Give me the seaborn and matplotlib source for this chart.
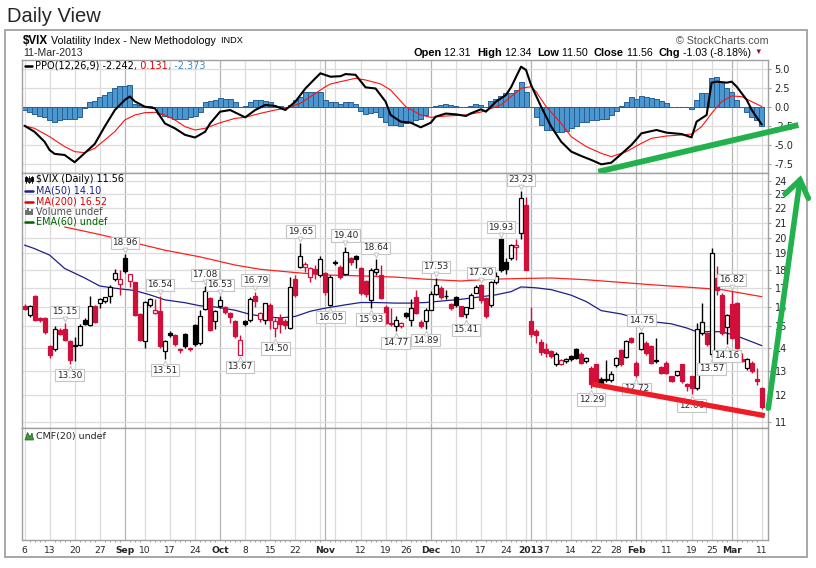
import matplotlib
matplotlib.use("Agg")
import numpy as np
import pandas as pd
import seaborn as sns
import matplotlib.pyplot as plt
import matplotlib.transforms as mtransforms
from matplotlib.patches import Rectangle, Polygon
from matplotlib.ticker import FixedLocator, NullLocator, NullFormatter

sns.set_style("white")
plt.rcParams["font.family"] = ["DejaVu Sans"]

# ---- daily candles, $VIX 6-Aug-2012 .. 11-Mar-2013 (148 sessions) ----
prior_close = 16.10
opens = [16.02, 15.55, 16.53, 15.42, 15.40, 14.10, 13.93, 14.85, 14.88, 14.30,
         14.15, 14.15, 15.30, 15.05, 16.05, 16.18, 16.30, 16.57, 17.48, 17.22,
         18.70, 17.40, 17.30, 15.60, 14.30, 16.10, 15.68, 15.75, 13.85, 14.69,
         14.60, 13.95, 14.65, 14.00, 15.08, 14.20, 15.87, 16.44, 15.25, 16.01,
         16.00, 15.67, 15.28, 13.70, 15.25, 15.30, 16.57, 15.38, 15.34, 16.09,
         14.93, 15.42, 15.25, 14.93, 17.48, 18.20, 18.20, 17.60, 18.07, 17.70,
         17.82, 16.09, 18.42, 18.16, 17.78, 18.70, 18.84, 18.10, 17.40, 16.35,
         17.92, 17.70, 15.98, 15.10, 15.04, 15.04, 15.67, 15.34, 16.48, 15.23,
         15.25, 15.84, 16.67, 16.98, 16.55, 16.15, 16.50, 16.01, 15.64, 15.92,
         16.74, 17.18, 16.44, 16.09, 17.30, 19.90, 18.50, 18.70, 19.37, 20.33,
         22.20, 15.29, 14.78, 14.28, 13.95, 13.85, 13.27, 13.30, 13.42, 13.64,
         13.96, 13.72, 13.42, 13.12, 13.27, 12.67, 12.67, 12.60, 13.23, 13.88,
         13.60, 14.47, 13.35, 13.96, 14.20, 14.09, 13.42, 13.15, 13.32, 12.77,
         12.84, 13.27, 12.47, 12.77, 12.31, 14.67, 14.67, 13.72, 17.55, 16.63,
         14.99, 16.14, 16.18, 13.49, 13.12, 13.35, 12.67, 12.31]
highs = [16.12, 16.10, 16.62, 15.48, 15.45, 14.15, 15.00, 14.92, 15.15, 14.35,
         14.50, 15.10, 15.40, 16.53, 16.10, 16.45, 16.52, 17.15, 18.04, 18.00,
         18.96, 17.80, 17.35, 15.65, 16.30, 16.45, 16.40, 16.54, 14.35, 14.78,
         14.65, 14.00, 14.70, 14.05, 15.12, 15.80, 17.08, 16.50, 15.80, 16.53,
         16.05, 15.70, 15.30, 14.60, 15.30, 16.50, 16.79, 15.70, 16.20, 16.20,
         15.40, 15.60, 15.35, 17.63, 17.70, 19.65, 18.50, 18.20, 18.30, 18.84,
         17.90, 17.70, 18.60, 18.30, 19.40, 18.80, 18.90, 18.20, 17.45, 18.10,
         18.64, 18.30, 16.10, 15.90, 15.50, 15.20, 15.70, 16.40, 16.90, 15.30,
         15.90, 16.80, 17.53, 17.10, 16.90, 16.20, 16.55, 16.05, 16.00, 16.70,
         17.15, 17.20, 16.50, 17.40, 17.90, 19.93, 18.70, 19.60, 19.90, 23.23,
         22.80, 16.00, 14.90, 14.40, 14.20, 13.90, 13.80, 13.50, 13.55, 13.70,
         14.00, 13.80, 13.60, 13.20, 13.30, 12.75, 13.45, 12.98, 13.60, 13.95,
         14.35, 14.50, 13.40, 14.75, 14.30, 14.15, 14.43, 13.20, 13.40, 12.80,
         13.00, 13.30, 12.50, 12.80, 15.15, 16.20, 14.75, 19.35, 18.23, 16.70,
         15.60, 16.82, 16.25, 13.75, 13.55, 13.40, 13.10, 12.34]
lows = [15.80, 15.48, 15.28, 15.22, 14.62, 13.55, 13.85, 14.58, 14.30, 13.30,
        13.40, 14.10, 15.05, 15.00, 15.15, 15.95, 16.20, 16.20, 17.40, 16.62,
        17.82, 17.07, 15.50, 14.30, 14.00, 16.00, 15.60, 14.00, 13.51, 14.50,
        14.10, 13.75, 14.00, 13.85, 14.10, 14.15, 15.80, 14.80, 14.90, 15.90,
        15.60, 15.15, 14.45, 13.67, 15.00, 15.20, 16.00, 15.20, 15.10, 14.90,
        14.50, 14.70, 14.90, 14.90, 16.50, 18.10, 17.90, 17.30, 17.50, 17.60,
        16.60, 16.05, 18.30, 17.50, 17.70, 18.30, 18.10, 16.60, 16.50, 15.93,
        17.70, 16.40, 15.10, 15.00, 14.77, 14.95, 15.40, 15.00, 15.60, 14.95,
        14.89, 15.80, 16.60, 16.40, 16.40, 15.80, 16.00, 15.50, 15.41, 15.90,
        16.70, 16.20, 15.40, 16.00, 17.20, 17.90, 17.80, 18.60, 18.60, 19.90,
        18.00, 14.50, 14.23, 13.70, 13.57, 13.55, 13.20, 13.25, 13.35, 13.40,
        13.50, 13.30, 13.35, 12.29, 12.35, 12.40, 12.55, 12.55, 13.15, 13.20,
        13.55, 14.20, 12.72, 13.90, 13.70, 13.30, 13.35, 12.85, 12.85, 12.55,
        12.80, 12.50, 12.16, 12.06, 12.20, 14.60, 14.10, 13.57, 16.60, 14.60,
        14.16, 14.40, 13.95, 13.38, 13.05, 12.92, 12.42, 11.50]
closes = [15.88, 16.04, 15.34, 15.30, 14.72, 13.70, 14.88, 14.65, 14.38, 13.46,
          14.07, 15.04, 15.12, 16.01, 15.20, 16.38, 16.48, 17.07, 17.82, 17.48,
          17.98, 17.76, 15.56, 14.37, 16.23, 16.40, 15.83, 14.07, 14.30, 14.60,
          14.18, 13.88, 14.07, 13.93, 14.18, 15.50, 16.80, 14.85, 15.75, 16.35,
          15.72, 15.45, 14.54, 14.35, 15.10, 16.38, 16.27, 15.67, 16.18, 15.30,
          15.25, 15.10, 15.05, 17.07, 16.62, 18.84, 18.34, 18.10, 17.82, 18.64,
          16.78, 17.63, 18.50, 17.63, 19.08, 18.50, 18.64, 16.74, 16.68, 18.01,
          18.06, 16.44, 15.17, 15.15, 15.30, 15.17, 15.50, 15.92, 15.67, 15.04,
          15.84, 16.67, 17.13, 16.50, 16.58, 15.92, 16.09, 15.53, 15.97, 16.62,
          17.05, 16.33, 15.53, 17.35, 17.68, 18.01, 18.05, 19.52, 19.50, 22.75,
          18.02, 14.64, 14.59, 13.80, 13.75, 13.62, 13.72, 13.45, 13.49, 13.52,
          13.54, 13.35, 13.54, 12.45, 12.42, 12.45, 12.63, 12.88, 13.54, 13.27,
          14.31, 14.28, 12.84, 14.67, 13.75, 13.35, 13.45, 12.91, 12.89, 12.59,
          12.98, 12.56, 12.39, 12.29, 14.90, 15.21, 14.16, 19.00, 16.90, 14.67,
          15.58, 14.43, 14.01, 13.42, 13.49, 12.98, 12.59, 11.56]

# moving averages (session index, value)
ma50_idx = [0, 2, 5, 8, 12, 15, 18, 22, 25, 28, 32, 35, 38, 42, 45, 48, 51, 54, 57,
            60, 64, 67, 70, 74, 77, 80, 84, 87, 90, 94, 97, 99, 102, 105, 109, 112,
            115, 119, 122, 125, 129, 132, 134, 137, 139, 142, 147]
ma50_val = [19.52, 19.30, 18.90, 18.10, 17.55, 17.10, 16.98, 16.85, 16.62, 16.35,
            16.20, 16.04, 15.98, 15.81, 15.60, 15.48, 15.42, 15.50, 15.76, 15.92,
            16.09, 16.21, 16.21, 16.18, 16.18, 16.21, 16.31, 16.38, 16.48, 16.62,
            16.79, 17.05, 17.00, 16.90, 16.60, 16.26, 15.79, 15.62, 15.40, 15.24,
            15.13, 14.93, 14.75, 14.75, 14.75, 14.55, 14.10]
ma200_idx = [8, 15, 22, 28, 35, 42, 47, 54, 60, 67, 74, 80, 87, 93, 99, 105, 112,
             119, 125, 132, 139, 147]
ma200_val = [20.70, 20.20, 19.66, 19.20, 18.79, 18.30, 18.05, 17.86, 17.72, 17.67,
             17.60, 17.48, 17.38, 17.48, 17.52, 17.55, 17.45, 17.30, 17.17, 17.04,
             16.90, 16.52]

# PPO(12,26,9) line and signal
ppo_idx = [0, 2, 4, 5, 6, 8, 10, 12, 14, 16, 18, 20, 21, 22, 24, 26, 28, 30, 32, 34,
           36, 37, 39, 41, 44, 46, 48, 50, 52, 54, 56, 58, 59, 61, 63, 64, 66, 68,
           70, 72, 73, 75, 77, 79, 81, 82, 84, 86, 88, 89, 91, 92, 94, 96, 97, 99,
           100, 101, 103, 105, 107, 109, 111, 113, 115, 117, 119, 121, 122, 123,
           126, 128, 131, 133, 134, 136, 137, 138, 140, 141, 142, 144, 145, 146, 147]
ppo_val = [-2.40, -3.20, -4.50, -5.60, -6.10, -6.25, -7.20, -6.00, -4.80, -2.50,
           -0.35, 1.00, 1.45, 0.80, 0.10, -0.10, -2.10, -2.75, -3.60, -3.95,
           -3.20, -2.10, -0.55, -0.33, -1.30, -0.33, 0.33, 0.20, -0.33, 0.77,
           2.50, 3.85, 4.50, 4.05, 4.12, 4.40, 4.30, 2.65, 2.50, 0.77,
           -0.99, -1.86, -2.00, -2.61, -2.00, -1.20, -0.80, -0.90, -1.12, -0.77,
           -0.24, -0.55, 0.77, 1.65, 2.65, 5.37, 4.93, 2.96, 0.11, -2.50,
           -4.50, -5.80, -6.38, -6.90, -7.48, -7.26, -6.12, -4.93, -4.19, -3.40,
           -2.96, -3.31, -3.49, -3.93, -1.86, -0.99, 3.27, 3.40, 3.27, 3.40,
           2.74, 0.99, -0.33, -1.30, -2.24]
sig_idx = [0, 2, 5, 8, 10, 12, 14, 16, 18, 20, 22, 24, 26, 28, 30, 32, 34, 36, 39,
           42, 44, 47, 50, 52, 55, 58, 60, 61, 63, 66, 68, 71, 73, 76, 79, 81, 84,
           88, 91, 95, 97, 99, 101, 102, 104, 107, 109, 112, 115, 117, 120, 123,
           125, 128, 131, 133, 135, 137, 139, 141, 143, 145, 147]
sig_val = [-2.43, -2.74, -3.84, -5.15, -5.81, -5.94, -5.37, -4.28, -3.18, -1.64,
           -0.99, -0.68, -0.64, -0.99, -1.64, -2.52, -2.96, -2.74, -2.00, -1.43,
           -1.29, -0.77, -0.33, -0.11, 0.55, 1.86, 2.74, 3.09, 3.40, 3.84,
           3.62, 3.10, 2.30, 0.11, -0.99, -1.29, -1.12, -0.99, -0.60, 0.33,
           1.43, 2.52, 2.74, 2.08, 0.11, -2.08, -3.84, -5.15, -6.03, -6.47,
           -5.81, -4.71, -4.06, -3.75, -3.62, -3.49, -2.52, -0.77, 0.77, 1.52,
           1.43, 0.77, 0.13]
# PPO histogram, one bar per session
hist = [-0.35, -0.57, -0.80, -1.10, -1.30, -1.65, -1.90, -1.65, -1.55, -1.50,
        -1.45, -1.30, -0.10, 0.75, 0.80, 1.40, 1.70, 2.05, 2.60, 2.80,
        2.80, 2.90, 0.45, 0.30, 0.17, 0.17, 0.10, -0.80, -1.10, -1.30,
        -1.45, -1.55, -1.55, -1.30, -1.10, -0.55, 0.75, 0.80, 1.05, 1.30,
        1.15, 1.10, 0.75, 0.10, 0.17, 0.75, 0.95, 0.95, 0.87, 0.75,
        0.17, 0.17, 0.10, 0.30, 0.95, 1.40, 2.05, 2.05, 2.05, 2.05,
        0.95, 0.77, 0.77, 0.44, 0.66, 0.66, 0.44, -0.44, -0.88, -0.77,
        -0.55, -1.21, -1.86, -2.30, -2.30, -2.45, -2.00, -1.90, -1.60, -1.54,
        -0.99, 0.02, 0.20, 0.33, 0.40, 0.30, 0.15, 0.05, 0.10, 0.25,
        0.50, 0.34, 0.13, 0.79, 1.10, 1.45, 1.89, 1.89, 2.24, 3.30,
        2.10, 0.05, -1.27, -2.28, -2.94, -2.94, -3.29, -3.29, -3.03, -2.72,
        -2.41, -1.97, -1.97, -1.71, -1.71, -1.54, -1.54, -0.97, -0.40, 0.20,
        0.77, 1.43, 1.08, 1.56, 1.43, 1.21, 1.08, 0.86, 0.55, 0.11,
        0.11, 0.02, 0.02, -0.24, 0.99, 1.87, 1.87, 3.94, 4.07, 3.41,
        2.53, 2.09, 0.99, 0.02, -0.55, -1.21, -1.71, -2.37]

# labelled swing highs / lows (session index)
high_label_idx = [8, 20, 27, 36, 39, 46, 55, 64, 70, 82, 91, 95, 99, 123, 141]
low_label_idx = [9, 28, 43, 50, 61, 69, 74, 80, 88, 113, 122, 133, 137, 140]

# date axis
tick_idx = [0, 5, 10, 15, 20, 24, 29, 34, 39, 44, 49, 54, 60, 67, 72, 76, 81, 86, 91,
            96, 101, 104, 109, 114, 118, 122, 128, 133, 137, 141, 147]
tick_txt = ["6", "13", "20", "27", "Sep", "10", "17", "24", "Oct", "8", "15", "22",
            "Nov", "12", "19", "26", "Dec", "10", "17", "24", "2013", "7", "14", "22",
            "28", "Feb", "11", "19", "25", "Mar", "11"]
month_idx = [20, 39, 60, 81, 101, 122, 141]
week_idx = [0, 5, 10, 15, 24, 29, 34, 44, 49, 54, 59, 62, 67, 72, 76, 86, 91, 96, 100,
            104, 109, 114, 118, 123, 128, 133, 137, 142, 147]

# hand drawn trend lines (index, value)
red_trend_x = [113.2, 147.6]
red_trend_y = [12.45, 11.24]
green_trend_x = [114.4, 154.3]
green_trend_y = [-8.45, -2.30]

RED = "#d0103a"
GRID = "#dcdcdc"
MONTH = "#b4b4b4"
FRAME = "#a0a0a0"

df = pd.DataFrame({"o": opens, "h": highs, "l": lows, "c": closes})
df["i"] = np.arange(len(df))
prev = df["c"].shift(1).fillna(prior_close)
df["col"] = np.where(df["c"] < prev, RED, "black")
df["face"] = np.where(df["c"] > df["o"], "white", df["col"])

W, H = 816, 568
fig = plt.figure(figsize=(W / 100, H / 100), dpi=100)


def px_axes(x0, y0, x1, y1):
    return fig.add_axes([x0 / W, 1 - y1 / H, (x1 - x0) / W, (y1 - y0) / H])


ax_ppo = px_axes(22, 60, 768.3, 173)
ax_px = px_axes(22, 173, 768.3, 428.3)
ax_cmf = px_axes(22, 428.3, 768.3, 540)
XLIM = (-0.5, 148.3)

for ax in (ax_ppo, ax_px, ax_cmf):
    ax.set_xlim(*XLIM)
    for s in ax.spines.values():
        s.set_color(FRAME)
        s.set_linewidth(1)
    for w in week_idx:
        ax.axvline(w, color=GRID, lw=0.9, zorder=0)
    for m in month_idx:
        ax.axvline(m, color=MONTH, lw=0.9, zorder=0)
    ax.tick_params(axis="x", which="both", bottom=False, labelbottom=False)

# ---- PPO panel ----
ax_ppo.set_ylim(-8.62, 6.25)
for v in [5, 2.5, 0, -2.5, -5, -7.5]:
    ax_ppo.axhline(v, color=GRID, lw=0.9, zorder=0)
ax_ppo.bar(df["i"], hist, width=1.0, color="#4b98d0", edgecolor="#2a5f95",
           linewidth=0.7, zorder=2)
sns.lineplot(x=sig_idx, y=sig_val, ax=ax_ppo, color="#ff1010", linewidth=0.8, zorder=3)
sns.lineplot(x=ppo_idx, y=ppo_val, ax=ax_ppo, color="black", linewidth=1.5, zorder=4)
ax_ppo.plot(green_trend_x, green_trend_y, color="#22b14c", lw=4.2, clip_on=False,
            solid_capstyle="butt", zorder=6)
ax_ppo.yaxis.tick_right()
ax_ppo.set_yticks([5, 2.5, 0, -2.5, -5, -7.5])
ax_ppo.set_yticklabels(["5.0", "2.5", "0.0", "-2.5", "-5.0", "-7.5"])
ax_ppo.tick_params(axis="y", right=True, length=2.5, color=FRAME, pad=2, labelsize=7)
ax_ppo.set_xlabel("")
ax_ppo.set_ylabel("")

# ---- price panel ----
ax_px.set_yscale("log")
ax_px.set_ylim(10.79, 24.65)
for p in range(11, 25):
    ax_px.axhline(p, color=GRID, lw=0.9, zorder=0)
ax_px.vlines(df["i"], df["l"], df["h"], colors=df["col"], lw=1.0, zorder=2)
ax_px.bar(df["i"], (df["c"] - df["o"]).abs(), bottom=df[["o", "c"]].min(axis=1),
          width=0.8, color=df["face"], edgecolor=df["col"], linewidth=0.9, zorder=3)
sns.lineplot(x=ma200_idx, y=ma200_val, ax=ax_px, color="#ff2020", linewidth=0.9, zorder=1)
sns.lineplot(x=ma50_idx, y=ma50_val, ax=ax_px, color="#1f1f8a", linewidth=0.9, zorder=1)
ax_px.yaxis.tick_right()
ax_px.yaxis.set_minor_locator(NullLocator())
ax_px.yaxis.set_minor_formatter(NullFormatter())
ax_px.set_yticks(list(range(11, 25)))
ax_px.set_yticklabels([str(p) for p in range(11, 25)])
ax_px.tick_params(axis="y", right=True, length=2.5, color=FRAME, pad=2, labelsize=7)
ax_px.set_xlabel("")
ax_px.set_ylabel("")

box = dict(boxstyle="square,pad=0.18", fc="white", ec="#c4c4c4", lw=0.8)
up = mtransforms.offset_copy(ax_px.transData, fig=fig, x=0, y=4, units="dots")
dn = mtransforms.offset_copy(ax_px.transData, fig=fig, x=0, y=-4, units="dots")
for i in high_label_idx:
    ax_px.annotate(f"{highs[i]:.2f}", xy=(i, highs[i]), xytext=(0, 7),
                   textcoords="offset pixels", ha="center", va="bottom",
                   fontsize=6.4, bbox=box, zorder=4)
    ax_px.plot(i, highs[i], marker="v", ms=3.5, mfc="white", mec="#c4c4c4",
               mew=0.7, transform=up, zorder=4)
for i in low_label_idx:
    ax_px.annotate(f"{lows[i]:.2f}", xy=(i, lows[i]), xytext=(0, -7),
                   textcoords="offset pixels", ha="center", va="top",
                   fontsize=6.4, bbox=box, zorder=4)
    ax_px.plot(i, lows[i], marker="^", ms=3.5, mfc="white", mec="#c4c4c4",
               mew=0.7, transform=dn, zorder=4)
ax_px.plot(red_trend_x, red_trend_y, color="#ee1c25", lw=3.8, clip_on=False,
           solid_capstyle="butt", zorder=6)

# ---- CMF panel (empty) and date axis ----
ax_cmf.set_ylim(0, 1)
ax_cmf.set_yticks([])
ax_cmf.set_xticks(tick_idx)
ax_cmf.set_xticklabels(tick_txt)
ax_cmf.xaxis.set_minor_locator(FixedLocator(list(range(148))))
ax_cmf.tick_params(axis="x", which="major", bottom=True, labelbottom=True, length=0,
                   pad=4, labelsize=6.6)
ax_cmf.tick_params(axis="x", which="minor", bottom=True, length=1.5, width=0.6,
                   color="#909090")
for lbl in ax_cmf.get_xticklabels():
    if lbl.get_text() in ("Sep", "Oct", "Nov", "Dec", "2013", "Feb", "Mar"):
        lbl.set_fontweight("bold")

# ---- overlay in pixel coordinates: frame, header, legends, arrow ----
ov = fig.add_axes([0, 0, 1, 1])
ov.set_xlim(0, W)
ov.set_ylim(H, 0)
ov.axis("off")
ov.set_zorder(10)
ov.add_patch(Rectangle((5, 30), 801.7, 526.7, fill=False, ec=FRAME, lw=1.3))

SANS = ["Liberation Sans", "DejaVu Sans"]


def chain(x, y, parts, family):
    t = None
    for s, color, weight, size in parts:
        kw = dict(color=color, fontweight=weight, fontsize=size, family=family,
                  va="center", ha="left")
        if t is None:
            t = ov.text(x, y, s, **kw)
        else:
            t = ov.annotate(s, xy=(1, 0.5), xycoords=t, **kw)
    return t


ov.text(7, 17, "Daily View", fontsize=14.5, family=SANS, va="center", ha="left")
chain(23, 40.5, [("$VIX", "black", "bold", 8.4),
                 (" Volatility Index - New Methodology", "black", "normal", 7.7),
                 ("  INDX", "black", "normal", 6.6)], SANS)
ov.text(23, 53.3, "11-Mar-2013", fontsize=7.6, family=SANS, va="center")
ov.text(768, 40.5, "\u00a9 StockCharts.com", fontsize=7.7, family=SANS,
        color="#505050", va="center", ha="right")
chain(413, 52.7, [("Open", "black", "bold", 7.9), (" 12.31  ", "black", "normal", 7.7),
                  ("High", "black", "bold", 7.9), (" 12.34  ", "black", "normal", 7.7),
                  ("Low", "black", "bold", 7.9), (" 11.50  ", "black", "normal", 7.7),
                  ("Close", "black", "bold", 7.9), (" 11.56  ", "black", "normal", 7.7),
                  ("Chg", "black", "bold", 7.9), (" -1.03 (-8.18%) ", "black", "normal", 7.7),
                  ("\u25bc", "#a01030", "normal", 5.5)], SANS)

# PPO legend
ov.plot([25, 32], [66, 66], color="black", lw=1.8)
chain(35, 66, [("PPO(12,26,9) -2.242", "black", "normal", 7.0),
               (", 0.131", "#e00000", "normal", 7.0),
               (", -2.373", "#3a8ac8", "normal", 7.0)], ["DejaVu Sans"])

# price legend
for k, x in enumerate([26, 29, 32]):
    ov.add_patch(Rectangle((x - 1, 177 + k % 2), 2, 4, fc="black" if k != 1 else "white",
                           ec="black", lw=0.6))
    ov.plot([x, x], [175.5, 183], color="black", lw=0.6)
legend_rows = [("$VIX (Daily) 11.56", "black", 179.3),
               ("MA(50) 14.10", "#1f1f8a", 190.7),
               ("MA(200) 16.52", "#e00000", 201.7),
               ("Volume undef", "#505050", 211.7),
               ("EMA(60) undef", "#006400", 221.7)]
for text, color, y in legend_rows:
    ov.text(36, y, text, color=color, fontsize=6.9, va="center", ha="left")
for color, y in [("#1f1f8a", 190.7), ("#e00000", 201.7), ("#006400", 221.7)]:
    ov.plot([25, 33], [y, y], color=color, lw=1.8)
for k, hgt in enumerate([5, 7, 4, 6]):
    ov.add_patch(Rectangle((25 + k * 2.1, 215 - hgt), 1.5, hgt, fc="#707070", ec="none"))

# CMF legend
ov.add_patch(Polygon([[25, 440], [27.5, 432.5], [30, 437], [32, 433], [33.5, 440]],
                     closed=True, fc="#3c9a3c", ec="#1d5c1d", lw=0.5))
ov.text(36, 436.5, "CMF(20) undef", fontsize=6.8, va="center", ha="left")

# green arrow on the right margin
GREEN = "#22b14c"
ov.plot([768.3, 800], [408.3, 180], color=GREEN, lw=4, solid_capstyle="round")
ov.plot([785, 800, 808.3], [194, 180, 198.3], color=GREEN, lw=4,
        solid_capstyle="round", solid_joinstyle="miter")

fig.savefig("out.png", dpi=100)
